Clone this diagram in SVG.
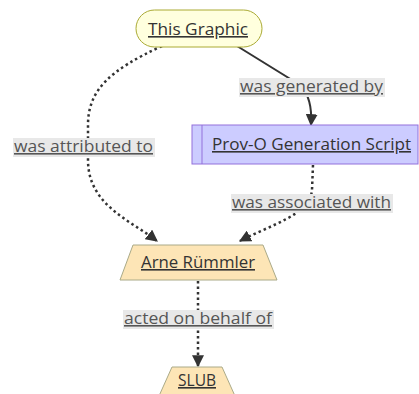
<svg xmlns="http://www.w3.org/2000/svg" width="419" height="394" viewBox="0 0 419 394">
<defs>
<marker id="arr" viewBox="0 0 10 10" refX="9" refY="5" markerWidth="12" markerHeight="12" markerUnits="userSpaceOnUse" orient="auto">
<path d="M0,0 L10,5 L0,10 z" fill="#333"/>
</marker>
<style>
text{font-family:"Open Sans","DejaVu Sans",sans-serif;font-size:16px;fill:#333;text-decoration:underline}
.lbl{fill:#555}
.edge{fill:none;stroke:#333;stroke-width:2}
.dot{stroke-dasharray:2.5 3;stroke-width:2.5}
.lbg{fill:#e8e8e8}
</style>
</defs>
<rect width="419" height="394" fill="#fff"/>
<g id="connectors">
<path class="edge dot" d="M162,46 C110,70 88,90 88,125 L88,160 C88,205 130,220 157,241" marker-end="url(#arr)"/>
<path class="edge" d="M237,46 L300,85 C310,95 312,110 311,125" marker-end="url(#arr)"/>
<path class="edge dot" d="M313,165 L312,190 C310,215 270,225 240,241" marker-end="url(#arr)"/>
<path class="edge dot" d="M198,281 L198,366" marker-end="url(#arr)"/>
<g id="edge-labels">
<rect class="lbg" x="13" y="138" width="142" height="19"/>
<text class="lbl" x="14" y="152" textLength="139" lengthAdjust="spacingAndGlyphs">was attributed to</text>
<rect class="lbg" x="239" y="78" width="146" height="19"/>
<text class="lbl" x="240" y="92" textLength="143" lengthAdjust="spacingAndGlyphs">was generated by</text>
<rect class="lbg" x="231" y="194" width="162" height="19"/>
<text class="lbl" x="232" y="208" textLength="159" lengthAdjust="spacingAndGlyphs">was associated with</text>
<rect class="lbg" x="123" y="310" width="151" height="19"/>
<text class="lbl" x="124" y="324" textLength="148" lengthAdjust="spacingAndGlyphs">acted on behalf of</text>
</g>
</g>
<g id="this-graphic">
<rect x="136" y="10" width="126" height="37" rx="18.5" fill="#ffffde" stroke="#aaaa33" stroke-width="1"/>
<text x="148" y="35" textLength="100" lengthAdjust="spacingAndGlyphs">This Graphic</text>
</g>
<g id="prov-o-script">
<rect x="192" y="125" width="226" height="39" fill="#ccccff" stroke="#9370db" stroke-width="1"/>
<line x1="202" y1="125" x2="202" y2="164" stroke="#9370db" stroke-width="1"/>
<text x="212" y="150" textLength="199" lengthAdjust="spacingAndGlyphs">Prov-O Generation Script</text>
</g>
<g id="arne">
<polygon points="133,245 263,245 277,280 120,280" fill="#fde5b6" stroke="#aaaa88" stroke-width="1"/>
<text x="141" y="268" textLength="114" lengthAdjust="spacingAndGlyphs">Arne Rümmler</text>
</g>
<g id="slub">
<polygon points="172,367 222,367 235,396 159,396" fill="#fde5b6" stroke="#aaaa88" stroke-width="1"/>
<text x="178" y="386" textLength="38" lengthAdjust="spacingAndGlyphs">SLUB</text>
</g>
</svg>
